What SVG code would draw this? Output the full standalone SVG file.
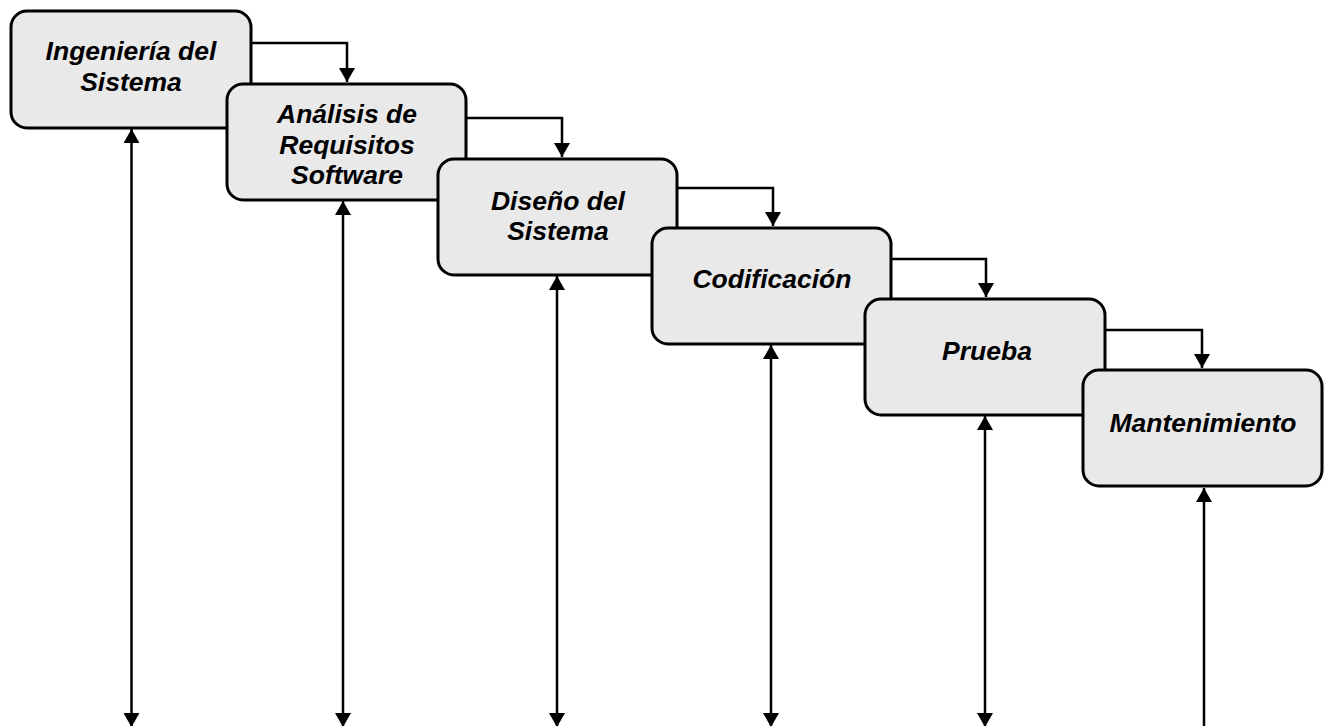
<svg xmlns="http://www.w3.org/2000/svg" width="1327" height="726" viewBox="0 0 1327 726">
<style>
.box{fill:#e9e9e9;stroke:#000;stroke-width:3}
.lbl{font-family:"Liberation Sans",Arial,sans-serif;font-size:26.5px;font-weight:bold;font-style:italic;text-anchor:middle;fill:#000}
.conn{fill:none;stroke:#000;stroke-width:2.5}
</style>
<defs>
<marker id="ah" viewBox="0 0 14 16" refX="14" refY="8" markerWidth="14" markerHeight="16" orient="auto-start-reverse" markerUnits="userSpaceOnUse"><path d="M0,0 L14,8 L0,16 z" fill="#000"/></marker>
</defs>
<rect width="1327" height="726" fill="#fff"/>
<g id="connectors">
<path class="conn" d="M251,43 H347 V82" marker-end="url(#ah)"/>
<path class="conn" d="M466,118 H562 V157" marker-end="url(#ah)"/>
<path class="conn" d="M678,188 H773 V226" marker-end="url(#ah)"/>
<path class="conn" d="M891,259 H986 V297" marker-end="url(#ah)"/>
<path class="conn" d="M1106,330 H1202 V368" marker-end="url(#ah)"/>
<path class="conn" d="M131.5,727 V129" marker-start="url(#ah)" marker-end="url(#ah)"/>
<path class="conn" d="M343,727 V201" marker-start="url(#ah)" marker-end="url(#ah)"/>
<path class="conn" d="M557,727 V276" marker-start="url(#ah)" marker-end="url(#ah)"/>
<path class="conn" d="M771,727 V345" marker-start="url(#ah)" marker-end="url(#ah)"/>
<path class="conn" d="M985,727 V416" marker-start="url(#ah)" marker-end="url(#ah)"/>
<path class="conn" d="M1204,727 V488" marker-end="url(#ah)"/>
</g>
<g id="n1">
<rect class="box" x="11" y="11" width="240" height="117" rx="16"/>
<text class="lbl" x="131" y="60">Ingeniería del</text>
<text class="lbl" x="131" y="91">Sistema</text>
</g>
<g id="n2">
<rect class="box" x="227" y="84" width="239" height="116" rx="16"/>
<text class="lbl" x="347" y="123">Análisis de</text>
<text class="lbl" x="347" y="154">Requisitos</text>
<text class="lbl" x="347" y="184">Software</text>
</g>
<g id="n3">
<rect class="box" x="438" y="159" width="239" height="116" rx="16"/>
<text class="lbl" x="558" y="210">Diseño del</text>
<text class="lbl" x="558" y="240">Sistema</text>
</g>
<g id="n4">
<rect class="box" x="652" y="228" width="239" height="116" rx="16"/>
<text class="lbl" x="772" y="288">Codificación</text>
</g>
<g id="n5">
<rect class="box" x="865" y="299" width="240" height="116" rx="16"/>
<text class="lbl" x="987" y="360">Prueba</text>
</g>
<g id="n6">
<rect class="box" x="1083" y="370" width="239" height="116" rx="16"/>
<text class="lbl" x="1203" y="432">Mantenimiento</text>
</g>
</svg>
